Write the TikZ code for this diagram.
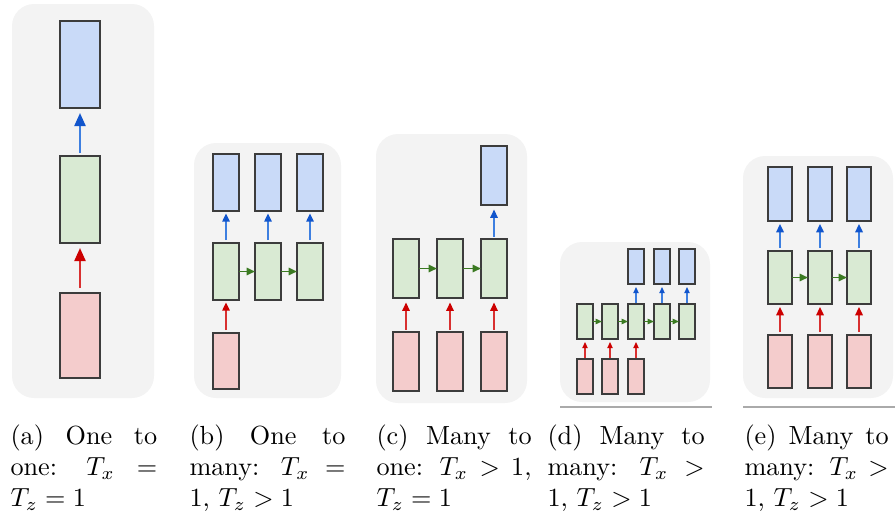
\documentclass[tikz,border=0pt]{standalone}
\usetikzlibrary{arrows.meta,fit}

\definecolor{panelgray}{HTML}{F3F3F3}
\definecolor{infill}{HTML}{F4CCCC}
\definecolor{hidfill}{HTML}{D9EAD3}
\definecolor{outfill}{HTML}{C9DAF8}
\definecolor{cellline}{HTML}{3C3C3C}
\definecolor{inshaft}{HTML}{D83030}
\definecolor{inhead}{HTML}{CC0000}
\definecolor{outshaft}{HTML}{3D7FE0}
\definecolor{outhead}{HTML}{1155CC}
\definecolor{recgreen}{HTML}{3B7A22}
\definecolor{rulegray}{HTML}{AAAAAA}

\tikzset{
  tiplen/.store in=\tiplen, tiplen=3.2pt,
  tipwid/.store in=\tipwid, tipwid=2.8pt,
  panel/.style={fill=panelgray, draw=none, rounded corners=8.4pt},
  cellbase/.style={draw=cellline, inner sep=0pt, outer sep=0pt},
  inbox/.style={cellbase, fill=infill},
  hidbox/.style={cellbase, fill=hidfill},
  outbox/.style={cellbase, fill=outfill},
  inarr/.style={draw=inshaft, -{Triangle[length=\tiplen,width=\tipwid,color=inhead]}},
  outarr/.style={draw=outshaft, -{Triangle[length=\tiplen,width=\tipwid,color=outhead]}},
  recarr/.style={draw=recgreen, -{Triangle[length=\tiplen,width=\tipwid]}},
  caption/.style={anchor=base west, align=justify, inner sep=0pt, font=\normalsize},
  rulebar/.style={draw=rulegray, line width=0.5pt},
}

\begin{document}
\begin{tikzpicture}[x=0.3817pt, y=-0.3817pt]
\useasboundingbox (0,0) rectangle (895,515);

% ---------- (a) one to one ----------
\fill[panel] (12,4) rectangle (154,398);
\begin{scope}[every node/.append style={line width=0.7pt}]
  \node[outbox, fit={(60,21) (100,108)}] (a3) {};
  \node[hidbox, fit={(60,156) (100,243)}] (a2) {};
  \node[inbox,  fit={(60,293) (100,378)}] (a1) {};
\end{scope}
\begin{scope}[line width=0.9pt, tiplen=5pt, tipwid=4.2pt]
  \draw[inarr, shorten <=1.9pt, shorten >=1.9pt] (a1.north) -- (a2.south);
  \draw[outarr, shorten <=1.1pt, shorten >=1.9pt] (a2.north) -- (a3.south);
\end{scope}

% ---------- (b) one to many ----------
\fill[panel] (194,143) rectangle (341,398);
\begin{scope}[every node/.append style={line width=0.6pt}]
  \node[outbox, fit={(213,154) (239,211)}] (b4) {};
  \node[outbox, fit={(255,154) (281,211)}] (b5) {};
  \node[outbox, fit={(297,154) (323,211)}] (b6) {};
  \node[hidbox, fit={(213,243) (239,300)}] (b1) {};
  \node[hidbox, fit={(255,243) (281,300)}] (b2) {};
  \node[hidbox, fit={(297,243) (323,300)}] (b3) {};
  \node[inbox,  fit={(213,333) (239,389)}] (b0) {};
\end{scope}
\begin{scope}[line width=0.75pt, shorten <=1.1pt, shorten >=0.9pt]
  \draw[inarr] (b0.north) -- (b1.south);
  \draw[outarr] (b1.north) -- (b4.south);
  \draw[outarr] (b2.north) -- (b5.south);
  \draw[outarr] (b3.north) -- (b6.south);
\end{scope}
\begin{scope}[line width=0.75pt]
  \draw[recarr] (b1.east) -- (b2.west);
  \draw[recarr] (b2.east) -- (b3.west);
\end{scope}

% ---------- (c) many to one ----------
\fill[panel] (376,134) rectangle (527,403);
\begin{scope}[every node/.append style={line width=0.6pt}]
  \node[outbox, fit={(481,146) (507,205)}] (c4) {};
  \node[hidbox, fit={(393,239) (419,298)}] (c1) {};
  \node[hidbox, fit={(437,239) (463,298)}] (c2) {};
  \node[hidbox, fit={(481,239) (507,298)}] (c3) {};
  \node[inbox,  fit={(393,332) (419,391)}] (x1) {};
  \node[inbox,  fit={(437,332) (463,391)}] (x2) {};
  \node[inbox,  fit={(481,332) (507,391)}] (x3) {};
\end{scope}
\begin{scope}[line width=0.75pt, shorten <=0.8pt, shorten >=1.7pt]
  \draw[inarr] (x1.north) -- (c1.south);
  \draw[inarr] (x2.north) -- (c2.south);
  \draw[inarr] (x3.north) -- (c3.south);
  \draw[outarr] (c3.north) -- (c4.south);
\end{scope}
\begin{scope}[line width=0.75pt]
  \draw[recarr] (c1.east) -- (c2.west);
  \draw[recarr] (c2.east) -- (c3.west);
\end{scope}

% ---------- (d) many to many, delayed ----------
\fill[panel] (560,242) rectangle (710,402);
\begin{scope}[every node/.append style={line width=0.5pt}]
  \node[hidbox, fit={(577,304) (593,339)}] (d1) {};
  \node[hidbox, fit={(602,304) (618,339)}] (d2) {};
  \node[hidbox, fit={(628,304) (644,339)}] (d3) {};
  \node[hidbox, fit={(654,304) (670,339)}] (d4) {};
  \node[hidbox, fit={(679,304) (695,339)}] (d5) {};
  \node[outbox, fit={(628,249) (644,284)}] (y3) {};
  \node[outbox, fit={(654,249) (670,284)}] (y4) {};
  \node[outbox, fit={(679,249) (695,284)}] (y5) {};
  \node[inbox,  fit={(577,359) (593,394)}] (u1) {};
  \node[inbox,  fit={(602,359) (618,394)}] (u2) {};
  \node[inbox,  fit={(628,359) (644,394)}] (u3) {};
\end{scope}
\begin{scope}[line width=0.55pt, tiplen=2.4pt, tipwid=2pt]
  \begin{scope}[shorten <=0.4pt, shorten >=1.1pt]
    \draw[inarr] (u1.north) -- (d1.south);
    \draw[inarr] (u2.north) -- (d2.south);
    \draw[inarr] (u3.north) -- (d3.south);
    \draw[outarr] (d3.north) -- (y3.south);
    \draw[outarr] (d4.north) -- (y4.south);
    \draw[outarr] (d5.north) -- (y5.south);
  \end{scope}
  \draw[recarr] (d1.east) -- (d2.west);
  \draw[recarr] (d2.east) -- (d3.west);
  \draw[recarr] (d3.east) -- (d4.west);
  \draw[recarr] (d4.east) -- (d5.west);
\end{scope}
\coordinate (dl) at (560,407);
\coordinate (dr) at (712,407);
\draw[rulebar] (dl) -- (dr);

% ---------- (e) many to many, synced ----------
\fill[panel] (743,156) rectangle (893,398);
\begin{scope}[every node/.append style={line width=0.6pt}]
  \node[outbox, fit={(768,167) (792,221)}] (e4) {};
  \node[outbox, fit={(808,167) (832,221)}] (e5) {};
  \node[outbox, fit={(847,167) (871,221)}] (e6) {};
  \node[hidbox, fit={(768,251) (792,304)}] (e1) {};
  \node[hidbox, fit={(808,251) (832,304)}] (e2) {};
  \node[hidbox, fit={(847,251) (871,304)}] (e3) {};
  \node[inbox,  fit={(768,335) (792,388)}] (v1) {};
  \node[inbox,  fit={(808,335) (832,388)}] (v2) {};
  \node[inbox,  fit={(847,335) (871,388)}] (v3) {};
\end{scope}
\begin{scope}[line width=0.75pt, shorten <=1.1pt, shorten >=1.1pt]
  \draw[inarr] (v1.north) -- (e1.south);
  \draw[inarr] (v2.north) -- (e2.south);
  \draw[inarr] (v3.north) -- (e3.south);
  \draw[outarr] (e1.north) -- (e4.south);
  \draw[outarr] (e2.north) -- (e5.south);
  \draw[outarr] (e3.north) -- (e6.south);
\end{scope}
\begin{scope}[line width=0.75pt]
  \draw[recarr] (e1.east) -- (e2.west);
  \draw[recarr] (e2.east) -- (e3.west);
\end{scope}
\coordinate (el) at (743,407);
\coordinate (er) at (895,407);
\draw[rulebar] (el) -- (er);

% ---------- captions ----------
\node[caption, text width=56pt] (capa) at (10,444)
  {(a) One to\linebreak one: $T_x =$\linebreak $T_z = 1$};
\node[caption, text width=59.5pt] (capb) at (189,444)
  {(b) One to\linebreak many: $T_x =$\linebreak 1, $T_z > 1$};
\node[caption, text width=59.2pt] (capc) at (376,444)
  {(c) Many to\linebreak one: $T_x > 1$,\linebreak $T_z = 1$};
\node[caption, text width=60pt] (capd) at (547,444)
  {(d) Many to\linebreak many: $T_x >$\linebreak 1, $T_z > 1$};
\node[caption, text width=55pt] (cape) at (744,444)
  {(e) Many to\linebreak many: $T_x >$\linebreak 1, $T_z > 1$};
\end{tikzpicture}
\end{document}
